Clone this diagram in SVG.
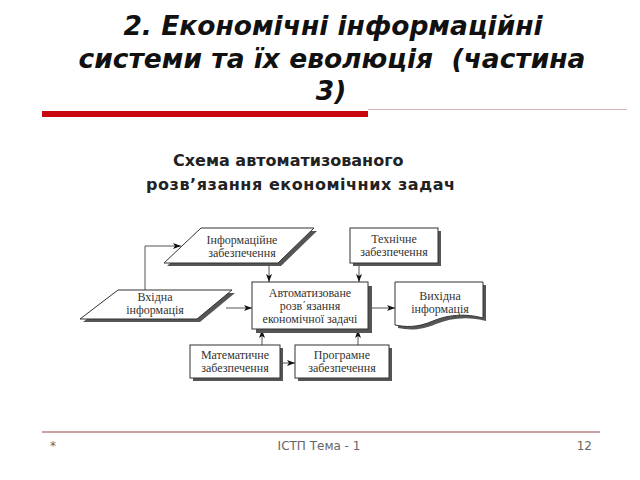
<svg xmlns="http://www.w3.org/2000/svg" width="640" height="480" viewBox="0 0 640 480">
<defs>
<style>
.title{font-family:"DejaVu Sans","Liberation Sans",sans-serif;font-weight:bold;font-style:italic;font-size:26.5px;fill:#111;text-anchor:middle}
.sub{font-family:"DejaVu Sans","Liberation Sans",sans-serif;font-weight:bold;font-size:16px;fill:#222}
.lbl{font-family:"Liberation Serif","Times New Roman",serif;font-size:12px;fill:#333;text-anchor:middle}
.box{fill:#fff;stroke:#333;stroke-width:1}
.shadow{fill:#555;stroke:none}
.con{fill:none;stroke:#555;stroke-width:1}
.foot{font-family:"DejaVu Sans","Liberation Sans",sans-serif;font-size:12px;fill:#666}
</style>
<marker id="arr" markerWidth="8" markerHeight="6" refX="8" refY="3" orient="auto" markerUnits="userSpaceOnUse">
<path d="M0,0 L8,3 L0,6 L2,3 z" fill="#111"/>
</marker>
</defs>
<rect width="640" height="480" fill="#fff"/>
<g id="title">
<text class="title" x="333" y="35">2. Економічні інформаційні</text>
<text class="title" x="332" y="68" xml:space="preserve">системи та їх еволюція  (частина</text>
<text class="title" x="331" y="100">3)</text>
</g>
<g id="rule">
<line x1="368" y1="109.5" x2="627" y2="109.5" stroke="#d9b3b3" stroke-width="1"/>
<rect x="42" y="111" width="326" height="6" fill="#c8080f"/>
</g>
<g id="subtitle">
<text class="sub" x="173" y="166">Схема автоматизованого</text>
<text class="sub" x="146" y="190" textLength="309" lengthAdjust="spacing">розв’язання економічних задач</text>
</g>
<g id="connectors">
<polyline class="con" points="145,291 145,246 181,246" marker-end="url(#arr)"/>
<line class="con" x1="226" y1="308" x2="252" y2="308" marker-end="url(#arr)"/>
<line class="con" x1="269" y1="264" x2="269" y2="282" marker-end="url(#arr)"/>
<line class="con" x1="359" y1="264" x2="359" y2="282" marker-end="url(#arr)"/>
<line class="con" x1="369" y1="308" x2="395" y2="308" marker-end="url(#arr)"/>
<line class="con" x1="262" y1="345" x2="262" y2="330" marker-end="url(#arr)"/>
<line class="con" x1="358" y1="345" x2="358" y2="330" marker-end="url(#arr)"/>
<line class="con" x1="280" y1="363" x2="295" y2="363" marker-end="url(#arr)"/>
</g>
<g id="info-support">
<polygon class="shadow" points="204,231 317,231 281,266 167,266"/>
<polygon class="box" points="201,228 314,228 278,263 164,263"/>
<text class="lbl" x="242" y="244">Інформаційне</text>
<text class="lbl" x="242" y="257">забезпечення</text>
</g>
<g id="input-info">
<polygon class="shadow" points="121,293 235,293 200,322 83,322"/>
<polygon class="box" points="118,290 232,290 197,319 80,319"/>
<text class="lbl" x="155" y="301">Вхідна</text>
<text class="lbl" x="155" y="314">інформація</text>
</g>
<g id="tech-support">
<rect class="shadow" x="353" y="231" width="88" height="35"/>
<rect class="box" x="350" y="228" width="88" height="35"/>
<text class="lbl" x="394" y="243">Технічне</text>
<text class="lbl" x="394" y="256">забезпечення</text>
</g>
<g id="central">
<rect class="shadow" x="256" y="286" width="116" height="47"/>
<rect class="box" x="252" y="282" width="116" height="47"/>
<text class="lbl" x="310" y="297">Автоматизоване</text>
<text class="lbl" x="310" y="310">розв΄язання</text>
<text class="lbl" x="310" y="323">економічної задачі</text>
</g>
<g id="output-info">
<path class="shadow" d="M398,285 H486 V321 C468,316 450,318 436,324 C420,331 408,330 398,328 Z"/>
<path class="box" d="M395,282 H483 V318 C465,313 447,315 433,321 C417,328 405,327 395,325 Z"/>
<text class="lbl" x="440" y="300">Вихідна</text>
<text class="lbl" x="440" y="313">інформація</text>
</g>
<g id="math-support">
<rect class="shadow" x="193" y="348" width="90" height="33"/>
<rect class="box" x="190" y="345" width="90" height="33"/>
<text class="lbl" x="235" y="359">Математичне</text>
<text class="lbl" x="235" y="372">забезпечення</text>
</g>
<g id="prog-support">
<rect class="shadow" x="298" y="348" width="94" height="33"/>
<rect class="box" x="295" y="345" width="94" height="33"/>
<text class="lbl" x="342" y="359">Програмне</text>
<text class="lbl" x="342" y="372">забезпечення</text>
</g>
<g id="footer">
<line x1="42" y1="432" x2="600" y2="432" stroke="#c9a3a3" stroke-width="2"/>
<text class="foot" x="50" y="450">*</text>
<text class="foot" x="319" y="450" text-anchor="middle">ІСТП Тема - 1</text>
<text class="foot" x="592" y="450" text-anchor="end">12</text>
</g>
</svg>
